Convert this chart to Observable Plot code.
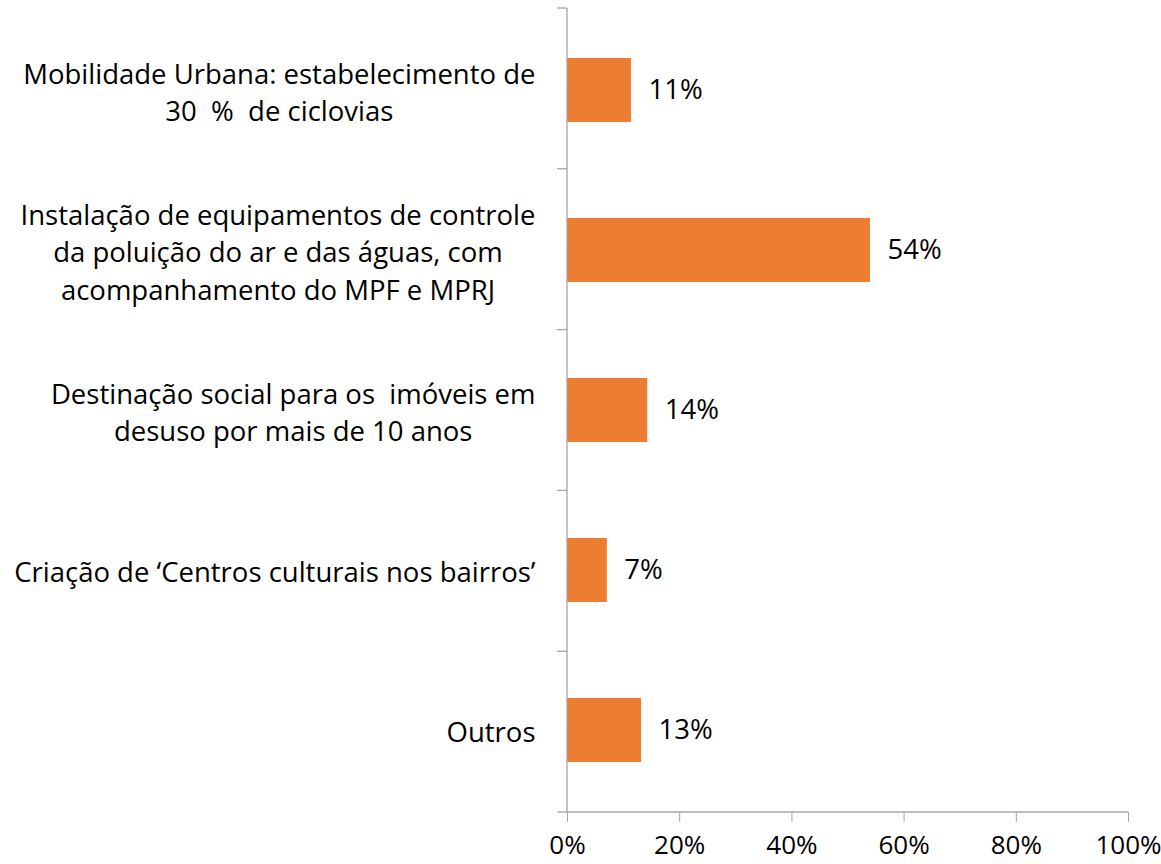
<!DOCTYPE html>
<html>
<head>
<meta charset="utf-8">
<script src="https://cdn.jsdelivr.net/npm/d3@7"></script>
<script src="https://cdn.jsdelivr.net/npm/@observablehq/plot@0.6"></script>
<style>
  html, body { margin: 0; padding: 0; background: #fff; }
  #chart svg { display: block; }
</style>
</head>
<body>
<div id="chart"></div>
<script>
const categories = [
  "Mobilidade Urbana: estabelecimento de\n30  %  de ciclovias",
  "Instalação de equipamentos de controle\nda poluição do ar e das águas, com\nacompanhamento do MPF e MPRJ",
  "Destinação social para os  imóveis em\ndesuso por mais de 10 anos",
  "Criação de ‘Centros culturais nos bairros’",
  "Outros"
];
const values = [11.4, 54.0, 14.3, 7.1, 13.2];
const xTicks = [0, 20, 40, 60, 80, 100];

const data = categories.map((c, i) => ({category: c, value: values[i]}));

const FONT = "'Open Sans', 'Noto Sans', sans-serif";
const FS = 27.5;
const AXIS = "#a6a6a6";

const chart = Plot.plot({
  width: 1161,
  height: 864,
  marginLeft: 567,
  marginRight: 33,
  marginTop: 8,
  marginBottom: 52,
  style: {fontFamily: FONT, fontSize: FS + "px", color: "#000", background: "#fff"},
  x: {domain: [0, 100]},
  y: {domain: categories, paddingInner: 0.6, paddingOuter: 0.3},
  marks: [
    Plot.barX(data, {x: "value", y: "category", fill: "#ED7D31"}),
    Plot.text(data, {x: "value", y: "category", text: d => Math.round(d.value) + "%", dx: 17, textAnchor: "start", fill: "#000", fontSize: FS}),
    Plot.text(data, {x: () => 0, y: "category", text: "category", dx: -32, textAnchor: "end", lineHeight: 1.36, fill: "#000", fontSize: FS, className: "ylabels"}),
    Plot.axisX({ticks: xTicks, tickFormat: d => d + "%", tickSize: 10, tickPadding: 13, stroke: AXIS, fill: "#000", label: null, fontSize: 26}),
    Plot.axisY({ticks: [], label: null, tickSize: 0})
  ]
});

document.getElementById("chart").appendChild(chart);

// center the lines of multi-line category labels within a right-aligned block
d3.select(chart).selectAll(".ylabels text").each(function() {
  const tspans = Array.from(this.querySelectorAll("tspan"));
  if (tspans.length < 2) return;
  const W = d3.max(tspans, t => t.getComputedTextLength());
  this.setAttribute("text-anchor", "middle");
  tspans.forEach(t => t.setAttribute("x", -W / 2));
});

// axis lines and category boundary ticks from the scales
const xs = chart.scale("x"), ys = chart.scale("y");
const [x0, x1] = xs.range;
const [y0, y1] = ys.range;
const n = ys.domain.length;
const step = (y1 - y0) / n;
const g = d3.select(chart).append("g").attr("stroke", AXIS).attr("stroke-width", 1.3).attr("fill", "none");
g.append("line").attr("x1", x0).attr("x2", x0).attr("y1", y0).attr("y2", y1);
g.append("line").attr("x1", x0).attr("x2", x1).attr("y1", y1).attr("y2", y1);
for (let i = 0; i <= n; i++) {
  const yy = y0 + i * step;
  g.append("line").attr("x1", x0 - 10).attr("x2", x0).attr("y1", yy).attr("y2", yy);
}
</script>
</body>
</html>
